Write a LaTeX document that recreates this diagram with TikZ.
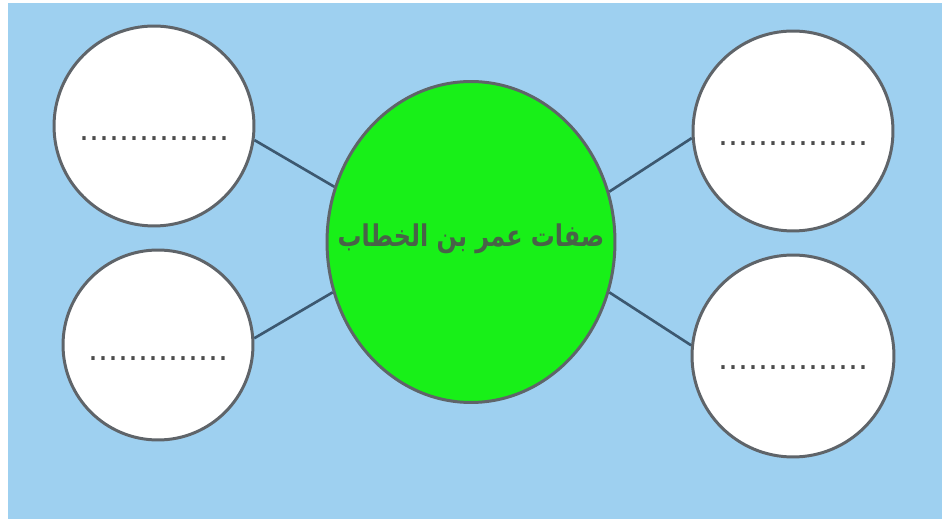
\documentclass[tikz,border=0pt]{standalone}
\usepackage{fontspec}
\newfontfamily\arabicfont[Script=Arabic]{DejaVu Sans}
\newfontfamily\dotfont{DejaVu Sans}
\TeXXeTstate=1
\usetikzlibrary{shapes.geometric, positioning}
\definecolor{SkyBg}{RGB}{158,208,240}
\definecolor{LeafGreen}{RGB}{24,240,24}
\definecolor{RimGray}{RGB}{95,100,105}
\definecolor{LinkBlue}{RGB}{60,88,112}
\definecolor{TitleInk}{RGB}{72,98,72}
\definecolor{DotGray}{RGB}{75,75,75}
\tikzset{
  % bubbles
  bubble/.style={circle,draw=RimGray,line width=1.7pt,fill=white,inner sep=0},
  core/.style={ellipse,draw=RimGray,line width=1.7pt,fill=LeafGreen,minimum width=5.76cm,minimum height=6.42cm,inner sep=0},
  % texts
  title/.style={inner sep=0,text=TitleInk,font=\arabicfont\bfseries\fontsize{13.6}{16}\selectfont},
  blank/.style={anchor=base,inner sep=0,text=DotGray,font=\dotfont\fontsize{17.9}{20}\selectfont},
  % connectors
  link/.style={LinkBlue,line width=1.5pt}
}
\begin{document}
\begin{tikzpicture}[x=0.02cm,y=-0.02cm]
  \useasboundingbox (0,0) rectangle (942,519);
  \fill[white] (0,0) rectangle (942,519);
  \fill[SkyBg] (8,3) rectangle (942,519);
  % centre
  \node[core] (core) at (471,242) {};
  \node[title] (title) at ([yshift=0.06cm]core.center) {\scalebox{1}[1.25]{\beginR صفات عمر بن الخطاب\endR}};
  % side bubbles
  \node[bubble,minimum size=4cm] (tl) at (154,126) {};
  \node[bubble,minimum size=3.8cm] (bl) at (158,345) {};
  \node[bubble,minimum size=4cm] (tr) at (793,131) {};
  \node[bubble,minimum size=4.04cm] (br) at (793,356) {};
  \node[blank] (tl dots) at ([yshift=-0.3cm]tl.center) {...............};
  \node[blank] (bl dots) at ([yshift=-0.31cm]bl.center) {..............};
  \node[blank] (tr dots) at ([yshift=-0.29cm]tr.center) {...............};
  \node[blank] (br dots) at ([yshift=-0.27cm]br.center) {...............};
  \draw[link] (tl.-8) -- (core.158);
  \draw[link] (bl.4) -- (core.200);
  \draw[link] (core.20) -- (tr.184);
  \draw[link] (core.-20) -- (br.174);
\end{tikzpicture}
\end{document}
